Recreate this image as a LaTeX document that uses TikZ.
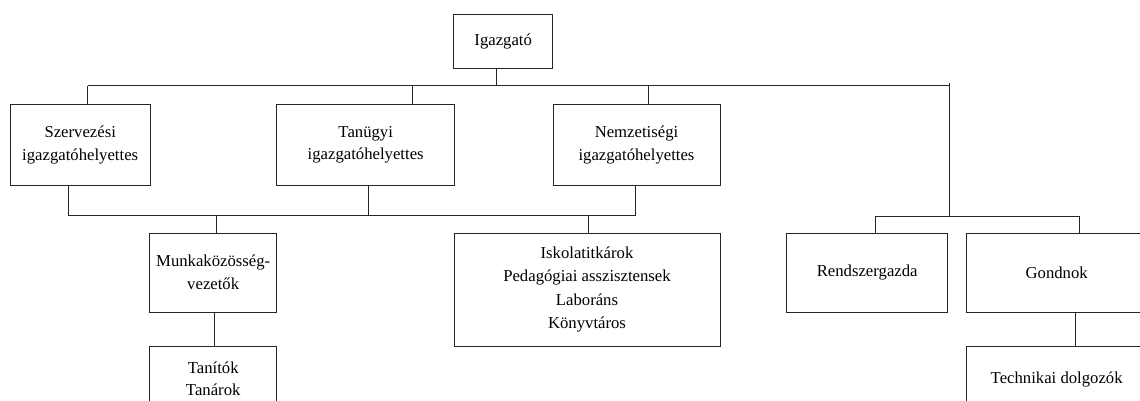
\documentclass[tikz,border=0pt]{standalone}
\usepackage{fontspec}
\setmainfont{Liberation Serif}
\begin{document}
\begin{tikzpicture}[x=1pt,y=-1pt,
  orgbox/.style={draw=black!85, line width=1pt, inner sep=0pt, align=center,
    font=\fontsize{16.7}{22.5}\selectfont},
  conn/.style={draw=black!85, line width=1pt}]
\useasboundingbox (0,0) rectangle (1140,401);
\clip (0,0) rectangle (1140,401);
% boxes
\node[orgbox, minimum width=99.5pt, minimum height=54pt] (ig) at (503.2,41.5) {Igazgató};
\node[orgbox, minimum width=140pt, minimum height=81pt] (sz) at (80.2,145) {Szervezési\\igazgatóhelyettes};
\node[orgbox, minimum width=178pt, minimum height=81pt] (ta) at (365.7,145) {Tanügyi\\igazgatóhelyettes};
\node[orgbox, minimum width=167pt, minimum height=81pt] (ne) at (636.5,145) {Nemzetiségi\\igazgatóhelyettes};
\node[orgbox, minimum width=127.5pt, minimum height=79pt] (mk) at (213.2,272.5) {Munkaközösség-\\vezetők};
\node[orgbox, minimum width=127.5pt, minimum height=66pt] (tt) at (213.2,379) {Tanítók\\Tanárok};
\node[orgbox, minimum width=266pt, minimum height=113pt, font=\fontsize{16.7}{23.2}\selectfont] (is) at (587,289.5) {Iskolatitkárok\\Pedagógiai asszisztensek\\Laboráns\\Könyvtáros};
\node[orgbox, minimum width=161.5pt, minimum height=79pt] (rg) at (867.2,272.5) {Rendszergazda};
\node[orgbox, minimum width=180pt, minimum height=79pt] (go) at (1056.7,272.5) {Gondnok};
\node[orgbox, minimum width=180pt, minimum height=66pt] (te) at (1056.7,379) {Technikai dolgozók};
% junction coordinates
\coordinate (j0) at (496,86);
\coordinate (jl) at (87.5,86);
\coordinate (jr) at (949.5,86);
\coordinate (jrtop) at (949.5,82.7);
\coordinate (jta) at (412,86);
\coordinate (jne) at (648,86);
\coordinate (k1) at (68.7,215);
\coordinate (k2) at (368.5,215);
\coordinate (k3) at (635,215);
\coordinate (kmk) at (216,215);
\coordinate (kis) at (588,215);
\coordinate (r0) at (949.5,216);
\coordinate (r1) at (875.6,216);
\coordinate (r2) at (1079,216);
% connectors
\draw[conn] (ig.south -| j0) -- (j0);
\draw[conn] (jl) -- (jr);
\draw[conn] (jrtop) -- (r0);
\draw[conn] (jl) -- (sz.north -| jl);
\draw[conn] (jta) -- (ta.north -| jta);
\draw[conn] (jne) -- (ne.north -| jne);
\draw[conn] (sz.south -| k1) -- (k1) -- (k3) -- (ne.south -| k3);
\draw[conn] (ta.south -| k2) -- (k2);
\draw[conn] (kmk) -- (mk.north -| kmk);
\draw[conn] (kis) -- (is.north -| kis);
\draw[conn] (mk.south -| 214,0) -- (tt.north -| 214,0);
\draw[conn] (rg.north -| r1) -- (r1) -- (r2) -- (go.north -| r2);
\draw[conn] (go.south -| 1075,0) -- (te.north -| 1075,0);
\end{tikzpicture}
\end{document}
